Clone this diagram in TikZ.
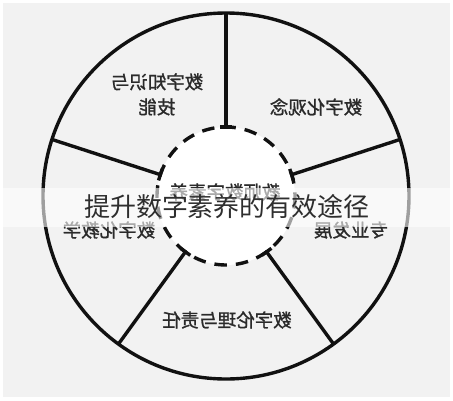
\documentclass[tikz,border=0pt]{standalone}
\usepackage{fontspec}
\usetikzlibrary{calc}
\newfontfamily\cjk{Noto Sans CJK SC}
\newfontfamily\cjkb[FakeBold=1.2]{Noto Sans CJK SC}
\definecolor{bggray}{HTML}{F2F2F2}
\definecolor{inkc}{HTML}{111111}
\definecolor{labc}{HTML}{2A2A2A}
\definecolor{titc}{HTML}{2E2E2E}
\begin{document}
\begin{tikzpicture}[x=1pt,y=-1pt,
  ring/.style={draw=inkc,line width=3.4pt},
  divider/.style={draw=inkc,line width=3.4pt},
  dashring/.style={draw=inkc,line width=3.4pt,dash pattern=on 12.5pt off 9pt},
  lab/.style={text=labc,font=\cjkb\fontsize{18.5}{27}\selectfont,align=center,inner sep=0pt},
  banner/.style={fill=white,fill opacity=0.6,draw=none},
  title/.style={text=titc,font=\cjk\fontsize{26}{26}\selectfont,inner sep=0pt}]
\useasboundingbox (0,0) rectangle (453,400);
\fill[white] (0,0) rectangle (453,400);
\fill[bggray] (3,3) rectangle (450,397);
\coordinate (O) at (226,196);
% inner white disc
\fill[white] (O) circle[radius=69];
% outer circle
\draw[ring] (O) circle[radius=183];
% dividers with tangent ticks at their inner ends
\foreach \a/\n in {270/t,342/ur,198/ul,126/ll,54/lr}{
  \coordinate (out-\n) at ($(O)+(\a:183)$);
  \coordinate (in-\n) at ($(O)+(\a:69)$);
  \draw[divider] (out-\n) -- (in-\n);
  \draw[divider] ($(in-\n)+(\a+90:6)$) -- ($(in-\n)+(\a-90:6)$);
}
% dashed inner circle
\draw[dashring] (O) circle[radius=69];
% sector labels (mirrored as in the picture)
\node[lab] (k1) at (157,96) {\reflectbox{\begin{tabular}{c}数字知识与\\[-2pt]技能\end{tabular}}};
\node[lab] (k2) at (316,107) {\reflectbox{数字化观念}};
\node[lab] (k3) at (351,230) {\reflectbox{专业发展}};
\node[lab] (k4) at (109,230) {\reflectbox{数字化教学}};
\node[lab] (k5) at (227,320) {\reflectbox{数字伦理与责任}};
\node[lab] (kc) at (225,192) {\reflectbox{教师数字素养}};
% translucent banner with title
\fill[banner] (0,188) rectangle (453,227);
\node[title] (tt) at (227,207) {提升数字素养的有效途径};
\end{tikzpicture}
\end{document}
